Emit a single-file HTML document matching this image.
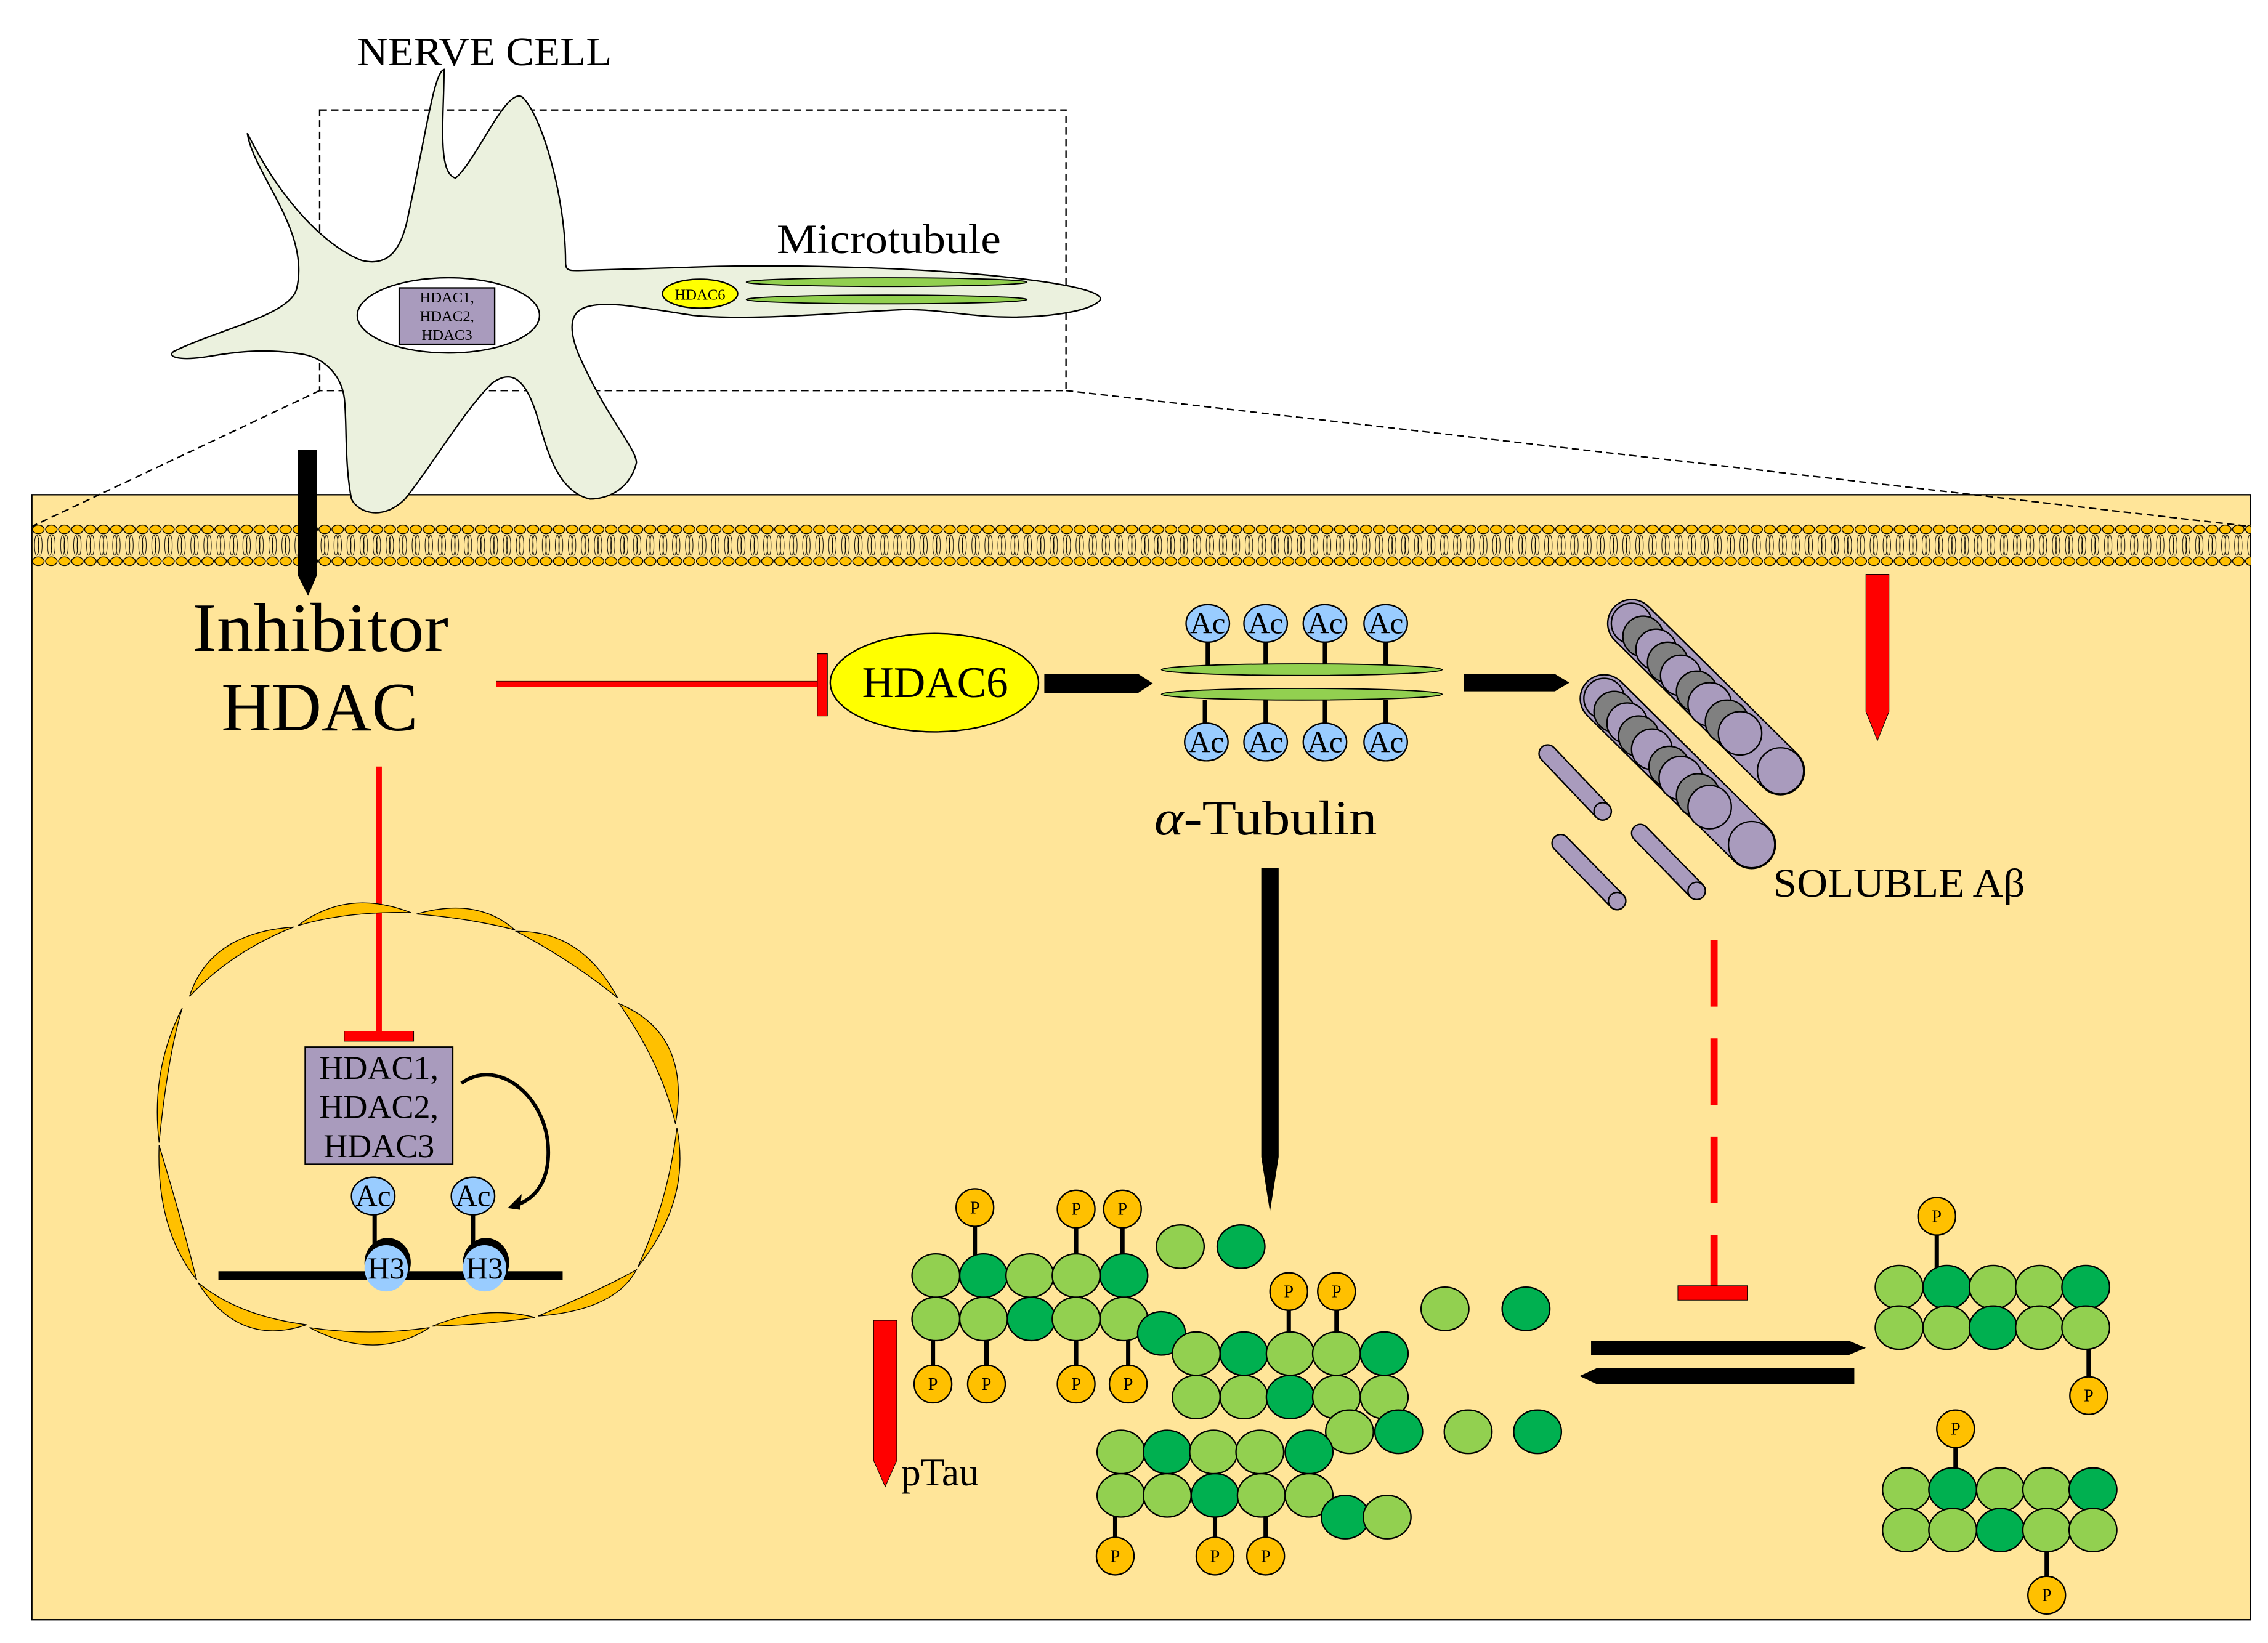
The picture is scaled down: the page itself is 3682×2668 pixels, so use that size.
<!DOCTYPE html>
<html><head><meta charset="utf-8"><style>
html,body{margin:0;padding:0;background:#fff;}
svg{display:block;}
text{font-family:"Liberation Serif",serif;}
</style></head><body>
<svg width="3682" height="2668" viewBox="0 0 1568 1136" xmlns="http://www.w3.org/2000/svg">
<defs>
<pattern id="mem" x="22" y="360" width="9" height="34" patternUnits="userSpaceOnUse">
<ellipse cx="4.5" cy="6" rx="4" ry="3" fill="#FFC000" stroke="#000" stroke-width="0.6"/>
<ellipse cx="3.3" cy="17" rx="1.4" ry="7" fill="none" stroke="#000" stroke-width="0.4"/>
<ellipse cx="5.7" cy="17" rx="1.4" ry="7" fill="none" stroke="#000" stroke-width="0.4"/>
<ellipse cx="4.5" cy="28" rx="4" ry="3" fill="#FFC000" stroke="#000" stroke-width="0.6"/>
</pattern>
<g id="ac"><ellipse rx="15" ry="13" fill="#99CCFF" stroke="#000" stroke-width="1"/><text y="7" text-anchor="middle" font-size="21">Ac</text></g>
<g id="p"><ellipse rx="13" ry="13" fill="#FFC000" stroke="#000" stroke-width="1"/><text y="4" text-anchor="middle" font-size="12">P</text></g>
<ellipse id="L" rx="16.5" ry="15" fill="#92D050" stroke="#000" stroke-width="1"/>
<ellipse id="D" rx="16.5" ry="15" fill="#00B050" stroke="#000" stroke-width="1"/>
</defs>

<rect x="22" y="342" width="1534" height="778" fill="#FFE599" stroke="#000" stroke-width="1"/>
<rect x="22" y="360" width="1534" height="34" fill="url(#mem)"/>

<rect x="221" y="76" width="516" height="194" fill="none" stroke="#000" stroke-width="1" stroke-dasharray="5,3"/>
<line x1="221" y1="270" x2="22" y2="364" stroke="#000" stroke-dasharray="5,3"/>
<line x1="737" y1="270" x2="1556" y2="364" stroke="#000" stroke-dasharray="5,3"/>

<!-- neuron -->
<path d="M120,243 C150,228 200,218 205,200 C215,160 175,120 171,92 C195,140 225,170 250,180 C270,185 278,170 282,150 C295,90 300,50 307,48 C307,80 302,120 315,123 C330,110 350,60 361,67 C375,80 391,137 391,181 C391,187 393,187 400,187 L470,185 C540,182 640,185 700,192 C745,197 765,203 760,208 C752,216 720,220 690,219 C665,218 650,214 626,214 C580,216 520,222 479,218 C440,212 420,208 406,212 C395,215 392,225 400,245 C420,290 440,310 440,320 C435,340 418,345 408,345 C385,340 378,310 372,290 C362,255 350,258 340,265 C320,285 300,320 280,345 C265,360 248,355 243,345 C238,320 240,290 238,275 C236,260 225,248 210,245 C180,240 160,244 140,247 C125,249 115,247 120,243 Z" fill="#EBF1DE" stroke="#000" stroke-width="1"/>
<ellipse cx="310" cy="218" rx="63" ry="26" fill="#fff" stroke="#000" stroke-width="1"/>
<rect x="276" y="199" width="66" height="39" fill="#A99BBD" stroke="#000" stroke-width="1"/>
<text x="309" y="209" text-anchor="middle" font-size="10.5">HDAC1,</text>
<text x="309" y="222" text-anchor="middle" font-size="10.5">HDAC2,</text>
<text x="309" y="235" text-anchor="middle" font-size="10.5">HDAC3</text>
<ellipse cx="484" cy="203" rx="26" ry="10" fill="#FFFF00" stroke="#000" stroke-width="1"/>
<text x="484" y="207" text-anchor="middle" font-size="10.5">HDAC6</text>
<ellipse cx="613" cy="195" rx="97" ry="3" fill="#92D050" stroke="#000" stroke-width="0.8"/>
<ellipse cx="613" cy="207" rx="97" ry="3" fill="#92D050" stroke="#000" stroke-width="0.8"/>
<text x="247" y="45" font-size="28" textLength="176" lengthAdjust="spacingAndGlyphs">NERVE CELL</text>
<text x="537" y="175" font-size="29" textLength="155" lengthAdjust="spacingAndGlyphs">Microtubule</text>

<path d="M206,311 H219 V398 L213,412 L206,398 Z" fill="#000"/>

<text x="133" y="450" font-size="48" textLength="177" lengthAdjust="spacingAndGlyphs">Inhibitor</text>
<text x="221" y="505" text-anchor="middle" font-size="48">HDAC</text>

<rect x="343" y="471" width="222" height="4" fill="#FF0000" stroke="#000" stroke-width="0.3"/>
<rect x="565" y="452" width="7" height="43" fill="#FF0000" stroke="#000" stroke-width="0.5"/>
<ellipse cx="646" cy="472" rx="72" ry="34" fill="#FFFF00" stroke="#000" stroke-width="1"/>
<text x="596" y="482" font-size="30" textLength="101" lengthAdjust="spacingAndGlyphs">HDAC6</text>
<path d="M722,466 H787 L797,472.5 L787,479 H722 Z" fill="#000"/>

<g stroke="#000" stroke-width="3">
<line x1="835" y1="444" x2="835" y2="460"/><line x1="875" y1="444" x2="875" y2="460"/>
<line x1="916" y1="444" x2="916" y2="460"/><line x1="958" y1="444" x2="958" y2="460"/>
<line x1="833" y1="484" x2="833" y2="500"/><line x1="875" y1="484" x2="875" y2="500"/>
<line x1="916" y1="484" x2="916" y2="500"/><line x1="958" y1="484" x2="958" y2="500"/>
</g>
<ellipse cx="900" cy="463" rx="97" ry="4" fill="#92D050" stroke="#000" stroke-width="0.8"/>
<ellipse cx="900" cy="480" rx="97" ry="4" fill="#92D050" stroke="#000" stroke-width="0.8"/>
<use href="#ac" x="835" y="431"/><use href="#ac" x="875" y="431"/><use href="#ac" x="916" y="431"/><use href="#ac" x="958" y="431"/>
<use href="#ac" x="834" y="513"/><use href="#ac" x="875" y="513"/><use href="#ac" x="916" y="513"/><use href="#ac" x="958" y="513"/>
<text x="798" y="577" font-size="34" textLength="154" lengthAdjust="spacingAndGlyphs"><tspan font-style="italic">α</tspan>-Tubulin</text>
<path d="M1012,466 H1075 L1085,472 L1075,478 H1012 Z" fill="#000"/>

<!-- amyloid -->
<g stroke="#000" stroke-width="1">
<line x1="1070" y1="521" x2="1108" y2="561" stroke-width="13" stroke-linecap="round"/>
<line x1="1070" y1="521" x2="1108" y2="561" stroke="#A99BBD" stroke-width="11" stroke-linecap="round"/>
<line x1="1079" y1="583" x2="1118" y2="623" stroke-width="13" stroke-linecap="round"/>
<line x1="1079" y1="583" x2="1118" y2="623" stroke="#A99BBD" stroke-width="11" stroke-linecap="round"/>
<line x1="1134" y1="576" x2="1173" y2="616" stroke-width="13" stroke-linecap="round"/>
<line x1="1134" y1="576" x2="1173" y2="616" stroke="#A99BBD" stroke-width="11" stroke-linecap="round"/>
<ellipse cx="1108" cy="561" rx="6" ry="6" fill="#A99BBD"/>
<ellipse cx="1118" cy="623" rx="6" ry="6" fill="#A99BBD"/>
<ellipse cx="1173" cy="616" rx="6" ry="6" fill="#A99BBD"/>
</g>
<g stroke="#000" stroke-width="1">
<line x1="1128" y1="431" x2="1231" y2="533" stroke="#000" stroke-width="34" stroke-linecap="round"/>
<line x1="1128" y1="431" x2="1231" y2="533" stroke="#A99BBD" stroke-width="32" stroke-linecap="round"/>
<circle cx="1128" cy="431" r="14" fill="#A99BBD"/>
<circle cx="1136" cy="440" r="14" fill="#808080"/>
<circle cx="1145" cy="449" r="14" fill="#A99BBD"/>
<circle cx="1153" cy="458" r="14" fill="#808080"/>
<circle cx="1162" cy="467" r="14" fill="#A99BBD"/>
<circle cx="1173" cy="478" r="14" fill="#808080"/>
<circle cx="1182" cy="487" r="15" fill="#A99BBD"/>
<circle cx="1194" cy="499" r="15" fill="#808080"/>
<circle cx="1203" cy="507" r="15" fill="#A99BBD"/>
<circle cx="1231" cy="533" r="16" fill="#A99BBD"/>

<line x1="1109" y1="483" x2="1211" y2="584" stroke="#000" stroke-width="34" stroke-linecap="round"/>
<line x1="1109" y1="483" x2="1211" y2="584" stroke="#A99BBD" stroke-width="32" stroke-linecap="round"/>
<circle cx="1109" cy="483" r="14" fill="#A99BBD"/>
<circle cx="1116" cy="492" r="14" fill="#808080"/>
<circle cx="1125" cy="500" r="14" fill="#A99BBD"/>
<circle cx="1133" cy="509" r="14" fill="#808080"/>
<circle cx="1142" cy="518" r="14" fill="#A99BBD"/>
<circle cx="1154" cy="530" r="14" fill="#808080"/>
<circle cx="1162" cy="538" r="15" fill="#A99BBD"/>
<circle cx="1174" cy="550" r="15" fill="#808080"/>
<circle cx="1182" cy="558" r="15" fill="#A99BBD"/>
<circle cx="1211" cy="584" r="16" fill="#A99BBD"/>
</g>
<text x="1226" y="620" font-size="28" textLength="174" lengthAdjust="spacingAndGlyphs">SOLUBLE Aβ</text>

<path d="M1290,397 H1306 V492 L1298,512 L1290,492 Z" fill="#FF0000" stroke="#000" stroke-width="0.4"/>
<path d="M872,600 H884 V800 L878,838 L872,800 Z" fill="#000"/>

<line x1="1185" y1="650" x2="1185" y2="889" stroke="#FF0000" stroke-width="5" stroke-dasharray="46,22"/>
<rect x="1160" y="889" width="48" height="10" fill="#FF0000" stroke="#000" stroke-width="0.4"/>

<path d="M1100,927 H1278 L1290,932 L1278,937 H1100 Z" fill="#000"/>
<path d="M1282,946 H1104 L1092,951.5 L1104,957 H1282 Z" fill="#000"/>

<rect x="260" y="530" width="4" height="183" fill="#FF0000"/>
<rect x="238" y="713" width="48" height="7" fill="#FF0000" stroke="#000" stroke-width="0.4"/>

<!-- nucleus envelope -->
<g fill="#FFC000" stroke="#000" stroke-width="0.6">
<path d="M206,640 Q240,614 284,631 Q240,630 206,640 Z"/>
<path d="M288,632 Q330,620 356,643 Q325,635 288,632 Z"/>
<path d="M131,689 Q145,645 203,641 Q160,658 131,689 Z"/>
<path d="M126,697 Q104,740 110,790 Q116,730 126,697 Z"/>
<path d="M110,792 Q108,850 136,885 Q124,838 110,792 Z"/>
<path d="M137,887 Q165,932 212,916 Q165,910 137,887 Z"/>
<path d="M214,918 Q260,942 297,918 Q255,924 214,918 Z"/>
<path d="M299,917 Q335,902 370,911 Q335,916 299,917 Z"/>
<path d="M372,910 Q425,906 440,878 Q415,892 372,910 Z"/>
<path d="M441,876 Q478,830 468,780 Q462,830 441,876 Z"/>
<path d="M467,777 Q478,715 428,694 Q457,735 467,777 Z"/>
<path d="M357,644 Q402,643 427,690 Q395,664 357,644 Z"/>
</g>

<rect x="211" y="724" width="102" height="81" fill="#A99BBD" stroke="#000" stroke-width="1"/>
<text x="262" y="746" text-anchor="middle" font-size="23">HDAC1,</text>
<text x="262" y="773" text-anchor="middle" font-size="23">HDAC2,</text>
<text x="262" y="800" text-anchor="middle" font-size="23">HDAC3</text>
<path d="M319,749 C345,730 381,760 379,800 C378,820 368,830 355,834" fill="none" stroke="#000" stroke-width="2.5"/>
<path d="M352,835 L360,827 L359,836 Z" fill="#000" stroke="#000" stroke-width="1"/>
<rect x="151" y="879" width="238" height="6" fill="#000"/>
<line x1="259" y1="838" x2="259" y2="865" stroke="#000" stroke-width="3"/>
<line x1="327" y1="838" x2="327" y2="865" stroke="#000" stroke-width="3"/>
<ellipse cx="268" cy="873" rx="16" ry="17" fill="#000"/>
<ellipse cx="336" cy="873" rx="16" ry="17" fill="#000"/>
<ellipse cx="267" cy="877" rx="15" ry="16" fill="#99CCFF"/>
<ellipse cx="335" cy="877" rx="15" ry="16" fill="#99CCFF"/>
<text x="267" y="884" text-anchor="middle" font-size="21">H3</text>
<text x="335" y="884" text-anchor="middle" font-size="21">H3</text>
<use href="#ac" x="258" y="827"/><use href="#ac" x="327" y="827"/>

<path d="M604,913 H620 V1010 L612,1028 L604,1010 Z" fill="#FF0000" stroke="#000" stroke-width="0.4"/>
<text x="623" y="1027" font-size="27">pTau</text>

<g stroke="#000" stroke-width="3">
<line x1="674" y1="845" x2="674" y2="868"/><line x1="744" y1="846" x2="744" y2="868"/><line x1="776" y1="846" x2="776" y2="868"/>
<line x1="645" y1="926" x2="645" y2="945"/><line x1="682" y1="926" x2="682" y2="945"/><line x1="744" y1="926" x2="744" y2="945"/><line x1="780" y1="926" x2="780" y2="945"/>
<line x1="891" y1="903" x2="891" y2="922"/><line x1="924" y1="903" x2="924" y2="922"/>
<line x1="771" y1="1048" x2="771" y2="1064"/><line x1="840" y1="1048" x2="840" y2="1064"/><line x1="875" y1="1048" x2="875" y2="1064"/>
<line x1="1339" y1="852" x2="1339" y2="876"/><line x1="1444" y1="932" x2="1444" y2="953"/>
<line x1="1352" y1="999" x2="1352" y2="1016"/><line x1="1415" y1="1072" x2="1415" y2="1091"/>
</g>
<use href="#L" x="647" y="882"/><use href="#D" x="680" y="882"/><use href="#L" x="712" y="882"/><use href="#L" x="744" y="882"/><use href="#D" x="777" y="882"/>
<use href="#L" x="647" y="912"/><use href="#L" x="680" y="912"/><use href="#D" x="713" y="912"/><use href="#L" x="744" y="912"/><use href="#L" x="777" y="912"/>
<use href="#D" x="803" y="922"/>
<use href="#p" x="674" y="835"/><use href="#p" x="744" y="836"/><use href="#p" x="776" y="836"/>
<use href="#p" x="645" y="957"/><use href="#p" x="682" y="957"/><use href="#p" x="744" y="957"/><use href="#p" x="780" y="957"/>
<use href="#L" x="816" y="862"/><use href="#D" x="858" y="862"/>

<use href="#L" x="827" y="936"/><use href="#D" x="860" y="936"/><use href="#L" x="892" y="936"/><use href="#L" x="924" y="936"/><use href="#D" x="957" y="936"/>
<use href="#L" x="827" y="966"/><use href="#L" x="860" y="966"/><use href="#D" x="892" y="966"/><use href="#L" x="924" y="966"/><use href="#L" x="957" y="966"/>
<use href="#L" x="933" y="990"/><use href="#D" x="967" y="990"/>
<use href="#p" x="891" y="893"/><use href="#p" x="924" y="893"/>

<use href="#L" x="775" y="1004"/><use href="#D" x="807" y="1004"/><use href="#L" x="839" y="1004"/><use href="#L" x="871" y="1004"/><use href="#D" x="905" y="1004"/>
<use href="#L" x="775" y="1034"/><use href="#L" x="807" y="1034"/><use href="#D" x="840" y="1034"/><use href="#L" x="872" y="1034"/><use href="#L" x="905" y="1034"/>
<use href="#D" x="930" y="1049"/><use href="#L" x="959" y="1049"/>
<use href="#p" x="771" y="1076"/><use href="#p" x="840" y="1076"/><use href="#p" x="875" y="1076"/>

<use href="#L" x="999" y="905"/><use href="#D" x="1055" y="905"/><use href="#L" x="1015" y="990"/><use href="#D" x="1063" y="990"/>

<use href="#L" x="1313" y="890"/><use href="#D" x="1346" y="890"/><use href="#L" x="1378" y="890"/><use href="#L" x="1410" y="890"/><use href="#D" x="1442" y="890"/>
<use href="#L" x="1313" y="918"/><use href="#L" x="1346" y="918"/><use href="#D" x="1378" y="918"/><use href="#L" x="1410" y="918"/><use href="#L" x="1442" y="918"/>
<use href="#p" x="1339" y="841"/><use href="#p" x="1444" y="965"/>

<use href="#L" x="1318" y="1030"/><use href="#D" x="1350" y="1030"/><use href="#L" x="1383" y="1030"/><use href="#L" x="1415" y="1030"/><use href="#D" x="1447" y="1030"/>
<use href="#L" x="1318" y="1058"/><use href="#L" x="1350" y="1058"/><use href="#D" x="1383" y="1058"/><use href="#L" x="1415" y="1058"/><use href="#L" x="1447" y="1058"/>
<use href="#p" x="1352" y="988"/><use href="#p" x="1415" y="1103"/>
</svg>
</body></html>
